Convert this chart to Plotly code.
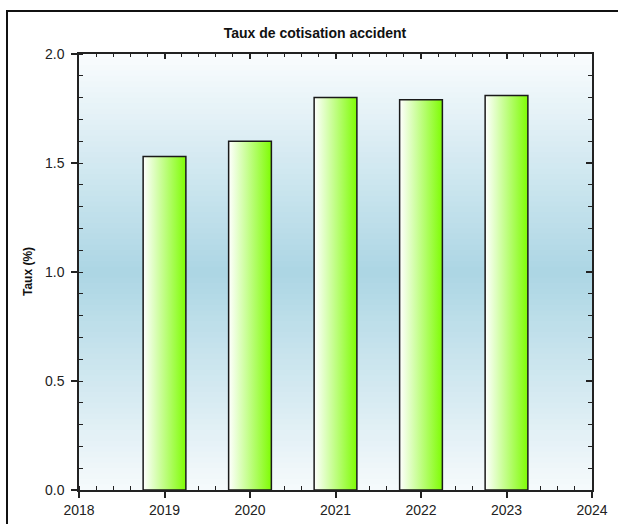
import plotly.graph_objects as go

years = [2019, 2020, 2021, 2022, 2023]
taux = [1.53, 1.60, 1.80, 1.79, 1.81]
x_range = [2018, 2024]
y_range = [0, 2.0]
title_text = "Taux de cotisation accident"
y_title = "Taux (%)"

FONT = "Liberation Sans, Arial, sans-serif"
bar_half = 0.25

fig = go.Figure()

for yr, v in zip(years, taux):
    fig.add_trace(go.Scatter(
        x=[yr - bar_half, yr - bar_half, yr + bar_half, yr + bar_half, yr - bar_half],
        y=[0, v, v, 0, 0],
        mode="lines",
        fill="toself",
        fillgradient=dict(type="horizontal",
                          colorscale=[[0, "#ffffff"], [1, "#7ffc05"]]),
        line=dict(color="#1a1a1a", width=1.5),
        hoverinfo="skip",
        showlegend=False,
    ))

# invisible trace to activate the mirror axes
fig.add_trace(go.Scatter(x=[x_range[0]], y=[0], xaxis="x2", yaxis="y2",
                         mode="markers", marker=dict(opacity=0),
                         hoverinfo="skip", showlegend=False))

# background vertical gradient (white -> light blue -> white)
def lerp(c1, c2, t):
    return tuple(round(a + (b - a) * t) for a, b in zip(c1, c2))

top_c = (250, 252, 254)
mid_c = (172, 214, 228)
bot_c = (246, 250, 252)
N = 80
shapes = []
for i in range(N):
    y0 = i / N
    y1 = (i + 1) / N
    yc = (y0 + y1) / 2
    if yc < 0.5:
        c = lerp(bot_c, mid_c, yc / 0.5)
    else:
        c = lerp(mid_c, top_c, (yc - 0.5) / 0.5)
    shapes.append(dict(type="rect", xref="x domain", yref="y domain",
                       x0=0, x1=1, y0=y0, y1=y1 + 0.002, layer="below",
                       line=dict(width=0), fillcolor="rgb(%d,%d,%d)" % c))

# outer frame
W, H = 618, 524
L, R, T, B = 79, 26, 54, 34
pw, ph = W - L - R, H - T - B
fx0 = (7 - L) / pw
fx1 = (640 - L) / pw
fy1 = (H - B - 11) / ph
fy0 = (H - B - 560) / ph
shapes.append(dict(type="rect", xref="paper", yref="paper",
                   x0=fx0, x1=fx1, y0=fy0, y1=fy1,
                   line=dict(color="#111111", width=2), fillcolor="rgba(0,0,0,0)",
                   layer="below"))

tickfont = dict(family=FONT, size=14, color="#222222")

fig.update_layout(
    template="none",
    width=W, height=H,
    margin=dict(l=L, r=R, t=T, b=B, pad=0, autoexpand=False),
    paper_bgcolor="white",
    plot_bgcolor="rgba(0,0,0,0)",
    shapes=shapes,
    title=dict(text="<b>" + title_text + "</b>",
               font=dict(family=FONT, size=14, color="#111111"),
               x=315 / W, xref="container", xanchor="center",
               y=1 - 33 / H, yref="container", yanchor="middle"),
    xaxis=dict(range=x_range, dtick=1, tick0=2018, showgrid=False, zeroline=False,
               automargin=False,
               showline=True, linecolor="#222222", linewidth=1.5,
               ticks="outside", ticklen=6, tickwidth=1.5, tickcolor="#222222",
               minor=dict(dtick=0.2, ticks="inside", ticklen=4, tickwidth=1.2,
                          tickcolor="#222222", showgrid=False),
               tickfont=tickfont, layer="below traces", fixedrange=True),
    xaxis2=dict(range=x_range, dtick=1, tick0=2018, overlaying="x", side="top",
                automargin=False,
                showgrid=False, zeroline=False, showticklabels=False,
                showline=True, linecolor="#222222", linewidth=1.5,
                ticks="inside", ticklen=5, tickwidth=1.5, tickcolor="#222222",
                minor=dict(dtick=0.2, ticks="inside", ticklen=3, tickwidth=1.2,
                           tickcolor="#222222", showgrid=False),
                fixedrange=True),
    yaxis=dict(range=y_range, dtick=0.5, tickformat=".1f", showgrid=False,
               automargin=False,
               zeroline=False, showline=True, linecolor="#222222", linewidth=1.5,
               ticks="outside", ticklen=6, tickwidth=1.5, tickcolor="#222222",
               ticklabelstandoff=4,
               minor=dict(dtick=0.1, ticks="inside", ticklen=4, tickwidth=1.2,
                          tickcolor="#222222", showgrid=False),
               tickfont=tickfont, fixedrange=True),
    yaxis2=dict(range=y_range, dtick=0.5, overlaying="y", side="right",
                automargin=False,
                showgrid=False, zeroline=False, showticklabels=False,
                showline=True, linecolor="#222222", linewidth=1.5,
                ticks="inside", ticklen=6, tickwidth=1.5, tickcolor="#222222",
                minor=dict(dtick=0.1, ticks="inside", ticklen=4, tickwidth=1.2,
                           tickcolor="#222222", showgrid=False),
                fixedrange=True),
    annotations=[dict(text="<b>" + y_title + "</b>", xref="paper", yref="paper",
                      x=(28 - L) / pw, y=(H - B - 272) / ph,
                      xanchor="center", yanchor="middle", textangle=-90,
                      showarrow=False,
                      font=dict(family=FONT, size=12, color="#111111"))],
)

fig.write_html("out.html",
               config={"displayModeBar": False},
               post_script="document.body.style.margin='0';"
                           "document.body.style.overflow='hidden';")
